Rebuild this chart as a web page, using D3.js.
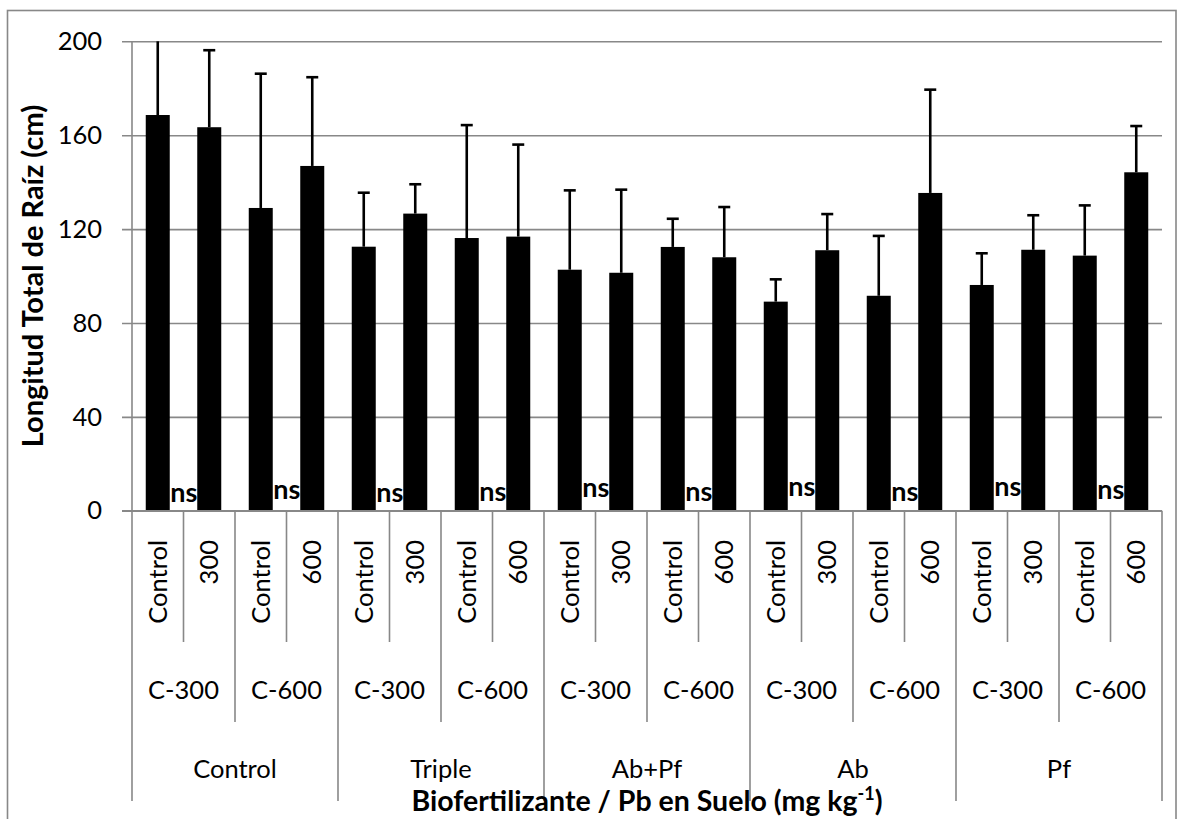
<!DOCTYPE html>
<html>
<head>
<meta charset="utf-8">
<script src="https://cdn.jsdelivr.net/npm/d3@7"></script>
<style>
  html, body { margin: 0; padding: 0; background: #fff; }
  svg { display: block; font-family: Lato, "Open Sans", sans-serif; }
</style>
</head>
<body>
<svg id="chart" width="1177" height="819"></svg>
<script>
// Biofertilizer groups, soil Pb sub-groups and the treatment of each bar
const groups = ["Control", "Triple", "Ab+Pf", "Ab", "Pf"];
const subgroups = ["C-300", "C-600"];
const treatments = ["Control", "300", "Control", "600"];

// Mean total root length (cm) and upper error (cm), one per bar
const means = [168.6, 163.4, 129.0, 146.9,
               112.5, 126.6, 116.2, 116.8,
               102.7, 101.4, 112.4, 108.0,
                89.1, 111.0,  91.6, 135.4,
                96.2, 111.2, 108.7, 144.2];
const errors = [36.0, 32.8, 57.2, 37.8,
                23.0, 12.5, 48.1, 39.2,
                33.8, 35.4, 12.0, 21.4,
                 9.5, 15.4, 25.5, 44.0,
                13.5, 14.7, 21.4, 19.7];

// Significance labels, one per Control/Pb pair, with their height (cm)
const sigLabels = ["ns", "ns", "ns", "ns", "ns", "ns", "ns", "ns", "ns", "ns"];
const sigHeights = [3.9, 4.9, 3.9, 4.2, 5.9, 4.2, 6.1, 4.2, 6.3, 5.0];

const yTicks = [0, 40, 80, 120, 160, 200];

// Flatten into one row per bar
const rows = [];
groups.forEach((g, gi) => {
  subgroups.forEach((s, si) => {
    [0, 1].forEach(k => {
      const i = gi * 4 + si * 2 + k;
      rows.push({ id: i, group: g, sub: s, treat: treatments[si * 2 + k], mean: means[i], err: errors[i] });
    });
  });
});

const svg = d3.select("#chart");
const plotL = 132, plotR = 1162, plotT = 41.3, plotB = 510.8;
const gridColor = "#888888";

// Chart frame
svg.append("rect")
  .attr("x", 7.5).attr("y", 10.5)
  .attr("width", 1176 - 7.5).attr("height", 830)
  .attr("fill", "none").attr("stroke", gridColor).attr("stroke-width", 1.6);

const xCat = d3.scaleBand().domain(rows.map(d => d.id)).range([plotL, plotR]).padding(0);
const xBar = d3.scaleBand().domain(rows.map(d => d.id)).range([plotL, plotR])
  .paddingInner(0.534).paddingOuter(0.267);
const y = d3.scaleLinear().domain([0, 200]).range([plotB, plotT]);

// Horizontal gridlines (they also form the short ticks left of the axis)
const grid = svg.append("g")
  .attr("transform", `translate(${plotL - 10},0)`)
  .call(d3.axisLeft(y).tickValues(yTicks).tickSize(-(plotR - plotL + 10)).tickFormat(""));
grid.select(".domain").remove();
grid.selectAll(".tick line").attr("stroke", gridColor).attr("stroke-width", 1.6);

// Value axis labels
const yAxis = svg.append("g")
  .attr("transform", `translate(${plotL},0)`)
  .call(d3.axisLeft(y).tickValues(yTicks).tickSize(0).tickPadding(30).tickFormat(d3.format("d")));
yAxis.select(".domain").remove();
yAxis.selectAll(".tick text")
  .attr("font-family", "Lato, sans-serif").attr("font-size", 25.5).attr("fill", "#000");

// Vertical axis line
svg.append("line")
  .attr("x1", plotL).attr("x2", plotL).attr("y1", plotT).attr("y2", plotB)
  .attr("stroke", gridColor).attr("stroke-width", 1.6);

// Bars
svg.append("g").selectAll("rect")
  .data(rows).join("rect")
  .attr("x", d => xBar(d.id))
  .attr("width", xBar.bandwidth())
  .attr("y", d => y(d.mean))
  .attr("height", d => y(0) - y(d.mean))
  .attr("fill", "#000");

// Upper error bars (clipped at the top of the value axis)
const eb = svg.append("g").attr("stroke", "#000").attr("stroke-width", 2.6);
rows.forEach(d => {
  const cx = xBar(d.id) + xBar.bandwidth() / 2;
  const topVal = d.mean + d.err;
  const clipped = topVal > 200;
  eb.append("line")
    .attr("x1", cx).attr("x2", cx)
    .attr("y1", y(d.mean)).attr("y2", y(Math.min(topVal, 200)));
  if (!clipped) {
    eb.append("line")
      .attr("x1", cx - 6).attr("x2", cx + 6)
      .attr("y1", y(topVal)).attr("y2", y(topVal));
  }
});

// Significance labels between each Control bar and its Pb bar
svg.append("g").selectAll("text")
  .data(sigLabels).join("text")
  .attr("x", (d, i) => xBar(i * 2) + xBar.bandwidth() + 0.5)
  .attr("y", (d, i) => y(sigHeights[i]))
  .attr("font-weight", "bold").attr("font-size", 27)
  .text(d => d);

// Multi-level category axis: divider lines
const catAxis = svg.append("g").attr("stroke", gridColor).attr("stroke-width", 1.6);
catAxis.append("line")
  .attr("x1", plotL - 10).attr("x2", plotR).attr("y1", plotB).attr("y2", plotB);
d3.range(0, rows.length + 1).forEach(i => {
  const x = i < rows.length ? xCat(i) : xCat(rows.length - 1) + xCat.bandwidth();
  let yEnd = 642;
  if (i % 4 === 0) yEnd = 801;
  else if (i % 2 === 0) yEnd = 722;
  catAxis.append("line")
    .attr("x1", x).attr("x2", x).attr("y1", plotB).attr("y2", yEnd);
});

// Level 1: treatment labels (rotated)
svg.append("g").selectAll("text")
  .data(rows).join("text")
  .attr("transform", d => `translate(${xCat(d.id) + xCat.bandwidth() / 2},540) rotate(-90)`)
  .attr("text-anchor", "end").attr("dy", "0.36em")
  .attr("font-size", 25.5)
  .text(d => d.treat);

// Level 2: soil Pb sub-groups
const pairs = d3.range(groups.length * subgroups.length);
svg.append("g").selectAll("text")
  .data(pairs).join("text")
  .attr("x", i => xCat(i * 2) + xCat.bandwidth())
  .attr("y", 690).attr("dy", "0.36em")
  .attr("text-anchor", "middle").attr("font-size", 25.5)
  .text(i => subgroups[i % 2]);

// Level 3: biofertilizer groups
svg.append("g").selectAll("text")
  .data(groups).join("text")
  .attr("x", (g, gi) => xCat(gi * 4 + 2))
  .attr("y", 769).attr("dy", "0.36em")
  .attr("text-anchor", "middle").attr("font-size", 25.5)
  .text(g => g);

// Axis titles
const xTitle = svg.append("text")
  .attr("x", (plotL + plotR) / 2).attr("y", 811)
  .attr("text-anchor", "middle").attr("font-weight", "bold").attr("font-size", 28.5);
xTitle.append("tspan").text("Biofertilizante / Pb en Suelo (mg kg");
xTitle.append("tspan").attr("dy", -11).attr("font-size", 18).text("-1");
xTitle.append("tspan").attr("dy", 11).text(")");

svg.append("text")
  .attr("transform", `translate(33,${(plotT + plotB) / 2}) rotate(-90)`)
  .attr("text-anchor", "middle").attr("dy", "0.36em")
  .attr("font-weight", "bold").attr("font-size", 29)
  .text("Longitud Total de Raíz (cm)");
</script>
</body>
</html>
